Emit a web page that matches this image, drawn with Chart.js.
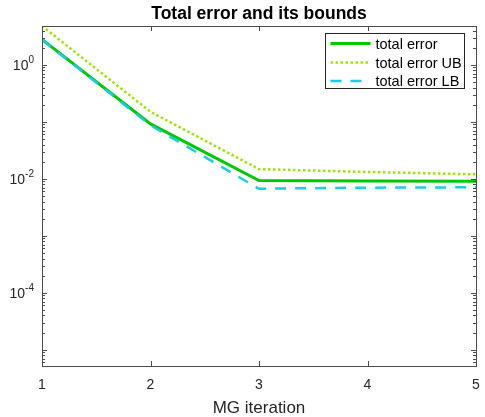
<!DOCTYPE html>
<html>
<head>
<meta charset="utf-8">
<script src="https://cdn.jsdelivr.net/npm/chart.js@4/dist/chart.umd.min.js"></script>
<style>
  body { margin: 0; background: #fff; }
  #wrap { width: 485px; height: 417px; }
</style>
</head>
<body>
<div id="wrap"><canvas id="errChart" width="485" height="417"></canvas></div>
<script>
// MG iterations and the three error curves
const iterations = [1, 2, 3, 4, 5];
const totalError = [2.8, 0.092, 0.0093, 0.0092, 0.0091];
const totalErrorUB = [4.8, 0.15, 0.0148, 0.0132, 0.012];
const totalErrorLB = [2.75, 0.087, 0.0067, 0.0070, 0.0071];
const seriesNames = ['total error', 'total error UB', 'total error LB'];
const yLabelExponents = [0, -2, -4];

const FONT = "'Liberation Sans', Arial, sans-serif";
const AXIS_COLOR = '#4d4d4d';
const colors = ['#00c800', '#99e600', '#1ccbe6'];
const widths = [3, 2.5, 2.5];
const dashes = [[], [2.5, 2.5], [11, 9]];

const toPoints = vals => iterations.map((x, i) => ({ x, y: vals[i] }));

// draws the matlab style box, inward ticks, y labels with superscripts and legend
const matlabAxes = {
  id: 'matlabAxes',
  afterDraw(chart) {
    const { ctx, chartArea: a, scales } = chart;
    const xs = scales.x, ys = scales.y;
    ctx.save();
    ctx.strokeStyle = AXIS_COLOR;
    ctx.lineWidth = 1;
    ctx.strokeRect(Math.round(a.left) + 0.5, Math.round(a.top) + 0.5,
      Math.round(a.right - a.left), Math.round(a.bottom - a.top));

    ctx.beginPath();
    iterations.forEach(v => {
      const px = Math.round(xs.getPixelForValue(v)) + 0.5;
      ctx.moveTo(px, a.bottom); ctx.lineTo(px, a.bottom - 5);
      ctx.moveTo(px, a.top); ctx.lineTo(px, a.top + 5);
    });
    for (let d = -6; d <= 1; d++) {
      for (let m = 1; m <= 9; m++) {
        const v = m * Math.pow(10, d);
        if (v < ys.min || v > ys.max) continue;
        const py = Math.round(ys.getPixelForValue(v)) + 0.5;
        const len = m === 1 ? 5 : 3;
        ctx.moveTo(a.left, py); ctx.lineTo(a.left + len, py);
        ctx.moveTo(a.right, py); ctx.lineTo(a.right - len, py);
      }
    }
    ctx.stroke();

    // y tick labels 10^e
    ctx.fillStyle = '#262626';
    ctx.textBaseline = 'middle';
    yLabelExponents.forEach(e => {
      const py = ys.getPixelForValue(Math.pow(10, e));
      const sup = String(e);
      ctx.font = '10px ' + FONT;
      const supW = ctx.measureText(sup).width;
      ctx.font = '14px ' + FONT;
      const baseW = ctx.measureText('10').width;
      const right = a.left - 8;
      ctx.textAlign = 'left';
      ctx.fillText('10', right - supW - baseW, py + 1);
      ctx.font = '10px ' + FONT;
      ctx.fillText(sup, right - supW, py - 5);
    });

    // legend
    const bx = Math.round(a.right - 151) + 0.5, by = Math.round(a.top + 7) + 0.5;
    const bw = 139, bh = 55;
    ctx.fillStyle = '#fff';
    ctx.fillRect(bx, by, bw, bh);
    ctx.strokeStyle = '#262626';
    ctx.strokeRect(bx, by, bw, bh);
    const rows = [10, 29, 47.5];
    seriesNames.forEach((name, i) => {
      const ry = by + rows[i];
      ctx.beginPath();
      ctx.strokeStyle = colors[i];
      ctx.lineWidth = widths[i];
      ctx.setLineDash(dashes[i]);
      ctx.moveTo(bx + 5, ry); ctx.lineTo(bx + 45, ry);
      ctx.stroke();
      ctx.setLineDash([]);
      ctx.fillStyle = '#000';
      ctx.font = '14.5px ' + FONT;
      ctx.textAlign = 'left';
      ctx.fillText(name, bx + 50, ry + 1);
    });
    ctx.restore();
  }
};

const datasetsRaw = [totalError, totalErrorUB, totalErrorLB];
const drawOrder = [2, 1, 0];

new Chart(document.getElementById('errChart'), {
  type: 'line',
  data: {
    datasets: datasetsRaw.map((vals, i) => ({
      label: seriesNames[i],
      data: toPoints(vals),
      borderColor: colors[i],
      borderWidth: widths[i],
      borderDash: dashes[i],
      pointRadius: 0,
      tension: 0,
      fill: false,
      order: drawOrder[i]
    }))
  },
  options: {
    responsive: false,
    animation: false,
    layout: { padding: { left: 0, right: 9, top: 0, bottom: 0 } },
    plugins: {
      legend: { display: false },
      tooltip: { enabled: false },
      title: {
        display: true,
        text: 'Total error and its bounds',
        fullSize: false,
        color: '#000',
        font: { family: FONT, size: 17.5, weight: 'bold' },
        padding: { top: 4, bottom: 1 }
      }
    },
    scales: {
      x: {
        type: 'linear',
        min: 1,
        max: 5,
        grid: { display: false, drawTicks: false },
        border: { display: false },
        ticks: {
          stepSize: 1,
          padding: 11,
          color: '#262626',
          font: { family: FONT, size: 14 },
          maxRotation: 0
        },
        title: {
          display: true,
          text: 'MG iteration',
          color: '#262626',
          font: { family: FONT, size: 17, lineHeight: 1 },
          padding: { top: 0, bottom: 0 }
        },
        afterFit: s => { s.height = 51; s.paddingLeft = 0; s.paddingRight = 0; }
      },
      y: {
        type: 'logarithmic',
        min: 5.2e-6,
        max: 4.8,
        grid: { display: false, drawTicks: false },
        border: { display: false },
        ticks: { display: false },
        afterFit: s => { s.width = 42; }
      }
    }
  },
  plugins: [matlabAxes]
});
</script>
</body>
</html>
